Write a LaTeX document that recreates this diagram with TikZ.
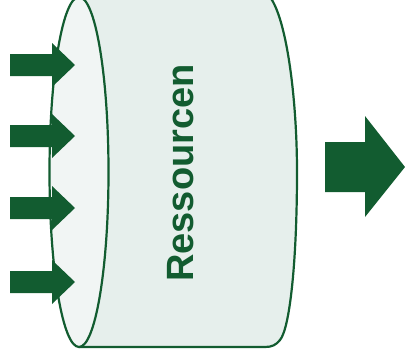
\documentclass[tikz,border=0pt]{standalone}
\usepackage{fontspec}
\setmainfont{Liberation Sans}
\definecolor{dgreen}{RGB}{18,92,48}
\definecolor{bodyfill}{RGB}{230,239,236}
\definecolor{facefill}{RGB}{241,245,244}
\begin{document}
\begin{tikzpicture}[x=1pt,y=-1pt,
  outline/.style={draw=dgreen,line width=2.2pt},
  arrowshape/.style={fill=dgreen,draw=none}]
\useasboundingbox (0,0) rectangle (405,360);
\clip (0,0) rectangle (405,360);
% cylinder body
\path[outline,fill=bodyfill,line join=round]
  (79,-3) -- (270,-3)
  .. controls (287,20) and (297,100) .. (297,172)
  .. controls (297,260) and (290,328) .. (280,340)
  .. controls (276,345) and (272,347) .. (265,347)
  -- (79,347) -- cycle;
% left face
\path[outline,fill=facefill] (79,172) ellipse [x radius=29.5, y radius=175];
% left arrows
\foreach \yy in {65,136,208,282}{
  \fill[arrowshape] (10,\yy-11) -- (52,\yy-11) -- (52,\yy-22) -- (75,\yy)
     -- (52,\yy+22) -- (52,\yy+11) -- (10,\yy+11) -- cycle;
}
% right arrow
\fill[arrowshape] (325,142) -- (365,142) -- (365,116) -- (405,167)
   -- (365,217) -- (365,192) -- (325,192) -- cycle;
% label
\node[text=dgreen,font=\fontsize{38}{42}\selectfont\bfseries,rotate=90,inner sep=0pt] (lbl) at (180.5,173) {Ressourcen};
\end{tikzpicture}
\end{document}
